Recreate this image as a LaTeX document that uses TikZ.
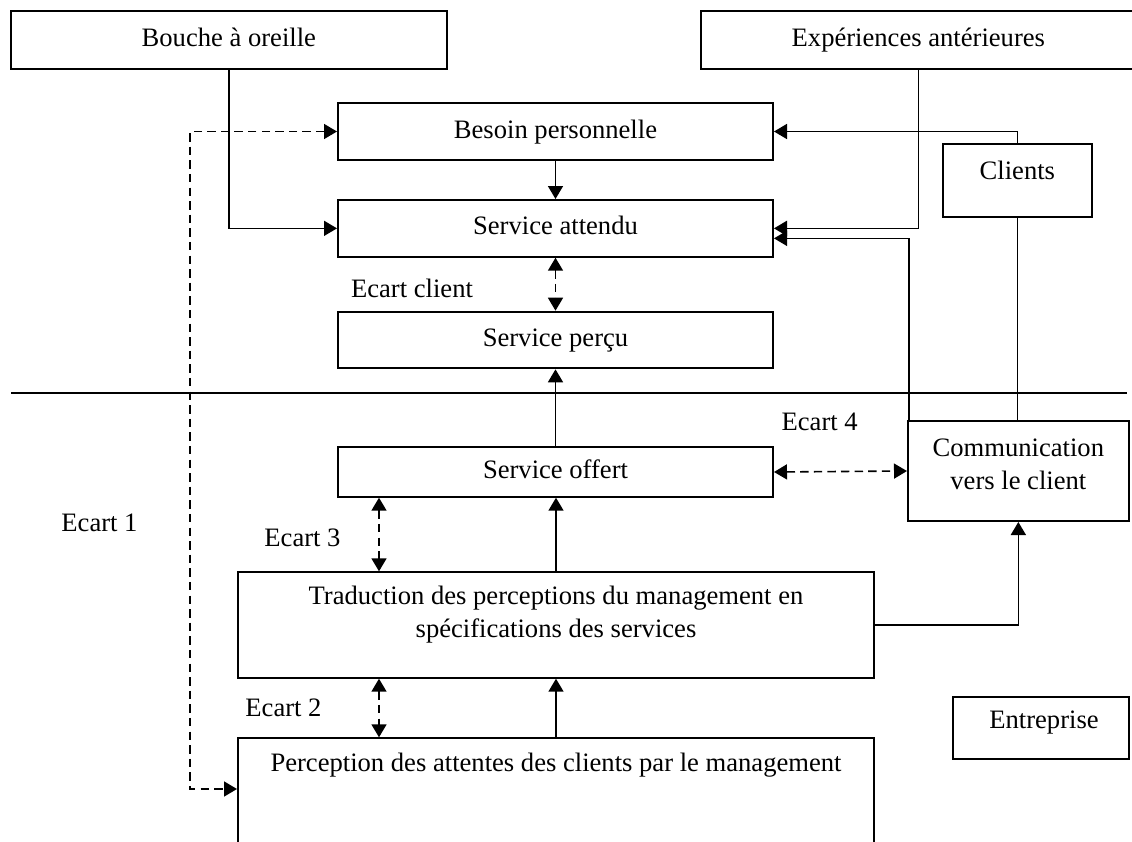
\documentclass[tikz,border=0pt]{standalone}
\usepackage{fontspec}
\setmainfont{Liberation Serif}
\usetikzlibrary{arrows.meta}
\begin{document}
\begin{tikzpicture}[x=0.5pt,y=-0.5pt,
  every node/.style={font=\fontsize{13.3}{16.5}\selectfont},
  box/.style={draw, line width=1pt, inner sep=0pt, align=center, text height=0.8em, text depth=0.14em},
  txt/.style={inner sep=0pt, align=center},
  link/.style={line width=0.8pt},
  arr/.style={link, -{Triangle[length=6.5pt,width=7.5pt]}},
  gap/.style={link, dash pattern=on 4.2pt off 2.6pt,
    {Triangle[length=6.5pt,width=7.5pt]}-{Triangle[length=6.5pt,width=7.5pt]}}]
\useasboundingbox (0,0) rectangle (1132,842);
\clip (0,0) rectangle (1132,842);

% outer influences
\node[box, minimum width=217.85pt, minimum height=29pt] (bouche) at (228.85,40) {Bouche à oreille};
\node[box, minimum width=217.65pt, minimum height=29pt] (exper) at (918.35,40) {Expériences antérieures};

% customer side
\node[box, minimum width=217.5pt, minimum height=28.5pt] (besoin) at (555.5,131.5) {Besoin personnelle};
\node[box, minimum width=217.5pt, minimum height=28.35pt] (attendu) at (555.5,228.35) {Service attendu};
\node[box, minimum width=217.5pt, minimum height=28.3pt] (percu) at (555.5,340) {Service perçu};
\node[box, minimum width=74.65pt, minimum height=36.8pt] (clients) at (1017.35,180.5) {};
\node[txt] (clientsT) at (1017.35,170) {Clients};

% company side
\node[box, minimum width=217.5pt, minimum height=24.7pt] (offert) at (555.5,472) {Service offert};
\node[box, minimum width=110.35pt, minimum height=50pt] (comm) at (1018.35,471) {};
\node[txt] (commT) at (1018.35,464.5) {Communication\\vers le client};
\node[txt] (tradT) at (556,615) {Traduction des perceptions du management en\\spécifications des services};
\node[box, minimum width=318pt, minimum height=52.7pt] (trad) at (556,625) {};
\node[box, minimum width=318pt, minimum height=80pt] (percep) at (556,818.3) {};
\node[txt] (percepT) at (556,765) {Perception des attentes des clients par le management};
\node[box, minimum width=88pt, minimum height=31.15pt] (entr) at (1040.7,727.85) {};
\node[txt] (entrT) at (1044,723) {Entreprise};

% gap labels
\node[txt] (ecC) at (412,288.3) {Ecart client};
\node[txt] (ec1) at (99.5,523.3) {Ecart 1};
\node[txt] (ec3) at (302.5,538.3) {Ecart 3};
\node[txt] (ec2) at (283.5,708.3) {Ecart 2};
\node[txt] (ec4) at (819.7,421.7) {Ecart 4};

% helper coordinates
\coordinate (sepL) at (11,392.7);
\coordinate (sepR) at (1126.7,392.7);
\coordinate (gapx) at (379,0);
\coordinate (loopx) at (190,0);
\coordinate (pin) at ([yshift=-25.85pt]percep.north west);

% boundary between customer and company
\draw[link] (sepL) -- (sepR);

% solid flows
\draw[arr] (bouche.south) |- (attendu.west);
\draw[arr] (exper.south) |- (attendu.east);
\draw[arr] (clients.north) |- (besoin.east);
\draw[arr] (besoin.south) -- (attendu.north);
\draw[link] (clients.south) -- (clients.south |- comm.north);
\draw[arr] ([xshift=1pt]comm.north west) |- ([yshift=-5pt]attendu.east);
\draw[arr] (offert.north) -- (percu.south);
\draw[arr] (trad.north) -- (trad.north |- offert.south);
\draw[arr] (percep.north) -- (percep.north |- trad.south);
\draw[arr] (trad.east) -| (comm.south);

% gaps
\draw[gap] (attendu.south) -- (percu.north);
\draw[gap] (offert.east) -- (comm.west);
\draw[gap] (offert.south -| gapx) -- (trad.north -| gapx);
\draw[gap] (trad.south -| gapx) -- (percep.north -| gapx);
\draw[gap] (besoin.west) -- (besoin.west -| loopx) -- (pin -| loopx) -- (pin);
\end{tikzpicture}
\end{document}
